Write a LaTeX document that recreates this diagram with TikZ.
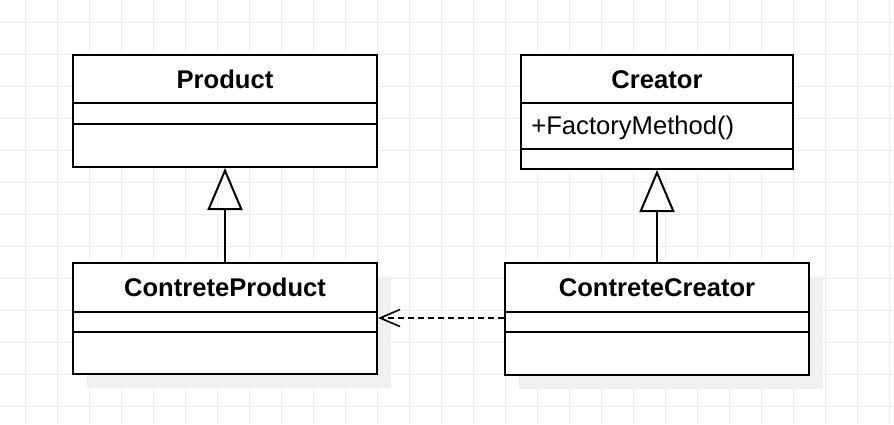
\documentclass[tikz,border=0pt]{standalone}
\usepackage{fontspec}
\setmainfont{Liberation Sans}
\usepackage{tikz}
\usetikzlibrary{positioning, calc, arrows.meta, shadows}

\definecolor{gridgray}{HTML}{EDEDED}
\definecolor{shadowgray}{HTML}{F0F0F0}

\tikzset{
    classbox/.style={draw=black, line width=1pt, fill=white, anchor=north west, inner sep=0pt},
    boxshadow/.style={drop shadow={shadow xshift=7pt, shadow yshift=-7pt, fill=shadowgray, opacity=1}},
    classname/.style={font=\fontsize{12.8}{15}\selectfont\bfseries, anchor=base, inner sep=0pt},
    member/.style={font=\fontsize{12.8}{15}\selectfont, anchor=base west, inner sep=0pt},
    divider/.style={line width=1pt},
    inherit/.style={line width=1pt, -{Triangle[open, length=21pt, width=17.5pt]}},
    depend/.style={line width=0.8pt, dash pattern=on 3pt off 2pt, -{Straight Barb[length=10pt, width=8.5pt, line width=0.8pt]}}
}

\begin{document}
\begin{tikzpicture}[x=0.5pt, y=-0.5pt]
            \useasboundingbox (0,0) rectangle (894,424);
            \fill[white] (0,0) rectangle (894,424);

            %グリッドを書く
            \foreach \x in {25,57,...,889}
                \draw[gridgray, line width=0.5pt] (\x,0) -- (\x,424);
            \foreach \y in {22,54,...,406}
                \draw[gridgray, line width=0.5pt] (0,\y) -- (894,\y);

            %クラスを書く
            \node[classbox, minimum width=152pt, minimum height=56pt] (product) at (72,54) {};
            \node[classbox, minimum width=136pt, minimum height=57pt] (creator) at (520,54) {};
            \node[classbox, boxshadow, minimum width=152pt, minimum height=55.5pt] (cproduct) at (72,262) {};
            \node[classbox, boxshadow, minimum width=152pt, minimum height=56pt] (ccreator) at (504,262) {};

            %区切り線を書く
            \draw[divider] ($(product.north west)+(0,49)$) -- ($(product.north east)+(0,49)$);
            \draw[divider] ($(product.north west)+(0,70)$) -- ($(product.north east)+(0,70)$);
            \draw[divider] ($(creator.north west)+(0,49)$) -- ($(creator.north east)+(0,49)$);
            \draw[divider] ($(creator.north west)+(0,95)$) -- ($(creator.north east)+(0,95)$);
            \draw[divider] ($(cproduct.north west)+(0,50)$) -- ($(cproduct.north east)+(0,50)$);
            \draw[divider] ($(cproduct.north west)+(0,70)$) -- ($(cproduct.north east)+(0,70)$);
            \draw[divider] ($(ccreator.north west)+(0,50)$) -- ($(ccreator.north east)+(0,50)$);
            \draw[divider] ($(ccreator.north west)+(0,70)$) -- ($(ccreator.north east)+(0,70)$);

            %名前を書く
            \node[classname] (product-name) at ($(product.north)+(0,34)$) {Product};
            \node[classname] (creator-name) at ($(creator.north)+(0,34)$) {Creator};
            \node[member] (creator-op) at ($(creator.north west)+(11,80)$) {+FactoryMethod()};
            \node[classname] (cproduct-name) at ($(cproduct.north)+(0,34)$) {ContreteProduct};
            \node[classname] (ccreator-name) at ($(ccreator.north)+(0,34)$) {ContreteCreator};

            %矢印を書く
            \draw[inherit] (cproduct.north) -- (product.south);
            \draw[inherit] (ccreator.north) -- (creator.south);
            \draw[depend] ($(ccreator.north west)+(0,56)$) -- ($(cproduct.north east)+(0,56)$);
        \end{tikzpicture}
\end{document}
